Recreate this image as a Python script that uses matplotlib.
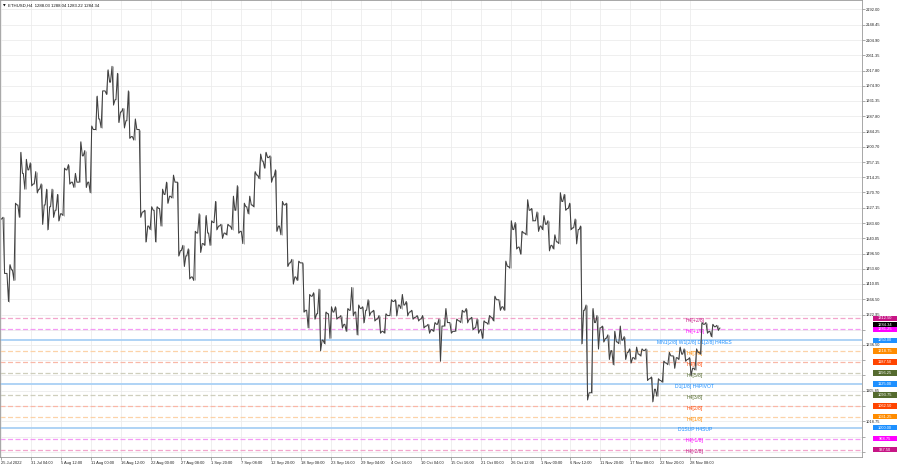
import matplotlib
matplotlib.use("Agg")
import matplotlib.pyplot as plt
import matplotlib.transforms as mtransforms
from matplotlib.patches import Rectangle

plt.rcParams['font.family'] = ['Liberation Sans', 'DejaVu Sans']

# daily bars, 25 Jul 2022 .. 3 Dec 2022
opens = [1595, 1440, 1450, 1635, 1725, 1735, 1695,
         1680, 1635, 1630, 1620, 1610, 1735, 1700, 1700, 1775, 1700, 1850, 1880, 1960, 1985, 1935, 1900,
         1875, 1830, 1850, 1615, 1575, 1620, 1625, 1665, 1660, 1700, 1505, 1490, 1430, 1555, 1525,
         1555, 1585, 1575, 1555, 1575, 1620, 1560, 1630, 1635, 1720, 1760, 1770, 1715, 1575, 1635,
         1470, 1430, 1470, 1335, 1375, 1325, 1250, 1325, 1330, 1315, 1295, 1335, 1330, 1340, 1335,
         1330, 1310, 1275, 1320, 1360, 1350, 1350, 1330, 1315, 1310, 1290, 1280, 1295, 1290, 1300,
         1275, 1305, 1330, 1310, 1285, 1280, 1300, 1315, 1365, 1345, 1460, 1565, 1515, 1555, 1620,
         1590, 1575, 1580, 1520, 1530, 1645, 1625, 1570, 1565, 1335, 1100, 1300, 1285, 1255, 1220,
         1245, 1250, 1215, 1200, 1210, 1220, 1140, 1110, 1135, 1185, 1205, 1200, 1210, 1195, 1170,
         1215, 1295, 1275, 1288]
highs = [1600, 1465, 1640, 1785, 1765, 1755, 1730,
         1695, 1680, 1680, 1665, 1740, 1750, 1725, 1815, 1790, 1860, 1945, 1960, 2020, 2030, 2010, 1910,
         1960, 1880, 1850, 1620, 1630, 1630, 1680, 1700, 1720, 1700, 1520, 1510, 1560, 1610, 1605,
         1590, 1645, 1580, 1580, 1660, 1690, 1640, 1660, 1730, 1780, 1785, 1775, 1735, 1645, 1640,
         1480, 1475, 1470, 1380, 1385, 1395, 1330, 1345, 1345, 1320, 1340, 1400, 1350, 1345, 1365,
         1335, 1320, 1325, 1365, 1365, 1380, 1360, 1335, 1320, 1320, 1295, 1300, 1310, 1340, 1300,
         1310, 1335, 1340, 1315, 1310, 1305, 1320, 1375, 1365, 1475, 1590, 1585, 1560, 1650, 1625,
         1615, 1605, 1590, 1550, 1670, 1665, 1640, 1595, 1575, 1350, 1340, 1320, 1290, 1265, 1275,
         1290, 1260, 1225, 1230, 1225, 1225, 1145, 1140, 1190, 1215, 1205, 1230, 1225, 1200, 1225,
         1300, 1300, 1295, 1292]
lows = [1440, 1360, 1420, 1600, 1680, 1690, 1670,
        1580, 1565, 1600, 1590, 1605, 1695, 1685, 1700, 1685, 1670, 1850, 1855, 1950, 1920, 1870, 1855,
        1825, 1820, 1600, 1530, 1565, 1530, 1575, 1640, 1655, 1490, 1460, 1425, 1420, 1500, 1520,
        1520, 1565, 1540, 1550, 1565, 1555, 1525, 1610, 1630, 1710, 1740, 1700, 1560, 1550, 1460,
        1410, 1420, 1330, 1285, 1310, 1220, 1240, 1255, 1310, 1285, 1275, 1320, 1265, 1300, 1320,
        1305, 1270, 1270, 1320, 1320, 1340, 1320, 1310, 1305, 1285, 1270, 1275, 1190, 1290, 1270,
        1275, 1300, 1300, 1280, 1270, 1255, 1295, 1305, 1335, 1335, 1455, 1510, 1495, 1550, 1590,
        1560, 1565, 1505, 1510, 1525, 1620, 1565, 1525, 1240, 1080, 1100, 1225, 1245, 1195, 1180,
        1240, 1195, 1185, 1195, 1205, 1135, 1075, 1090, 1130, 1180, 1170, 1195, 1190, 1150, 1165,
        1210, 1270, 1260, 1278]
closes = [1440, 1450, 1635, 1725, 1735, 1695, 1680,
          1635, 1630, 1620, 1610, 1735, 1700, 1700, 1775, 1700, 1850, 1880, 1960, 1985, 1935, 1900, 1875,
          1830, 1850, 1615, 1575, 1620, 1625, 1665, 1660, 1700, 1505, 1490, 1430, 1555, 1525, 1555,
          1585, 1575, 1555, 1575, 1620, 1560, 1630, 1635, 1720, 1760, 1770, 1715, 1575, 1635, 1470,
          1430, 1470, 1335, 1375, 1325, 1250, 1325, 1330, 1315, 1295, 1335, 1330, 1340, 1335, 1330,
          1310, 1275, 1320, 1360, 1350, 1350, 1330, 1315, 1310, 1290, 1280, 1295, 1290, 1300, 1275,
          1305, 1330, 1310, 1285, 1280, 1300, 1315, 1365, 1345, 1460, 1565, 1515, 1555, 1620, 1590,
          1575, 1580, 1520, 1530, 1645, 1625, 1570, 1565, 1335, 1100, 1300, 1285, 1255, 1220, 1245,
          1250, 1215, 1200, 1210, 1220, 1140, 1110, 1135, 1185, 1205, 1200, 1210, 1195, 1170, 1215,
          1295, 1275, 1288, 1284.34]

date_labels = ['25 Jul 2022', '31 Jul 04:00', '5 Aug 12:00', '11 Aug 00:00', '16 Aug 12:00',
               '22 Aug 00:00', '27 Aug 08:00', '1 Sep 20:00', '7 Sep 08:00', '12 Sep 20:00',
               '18 Sep 08:00', '23 Sep 16:00', '29 Sep 04:00', '4 Oct 16:00', '10 Oct 04:00',
               '15 Oct 16:00', '21 Oct 00:00', '26 Oct 12:00', '1 Nov 00:00', '6 Nov 12:00',
               '11 Nov 20:00', '17 Nov 08:00', '22 Nov 20:00', '28 Nov 08:00']
price_ticks = [2192.00, 2148.45, 2104.90, 2061.35, 2017.80, 1974.90, 1931.35, 1887.80, 1844.25,
               1800.70, 1757.15, 1714.25, 1670.70, 1627.15, 1583.60, 1540.05, 1496.50, 1453.60,
               1410.05, 1366.50, 1322.95, 1279.40, 1236.50, 1192.95, 1149.40, 1105.85, 1062.30,
               1018.75, 975.20, 931.65]

# murrey levels
levels = [1312.50, 1281.25, 1250.00, 1218.75, 1187.50, 1156.25, 1125.00,
          1093.75, 1062.50, 1031.25, 1000.00, 968.75, 937.50]
level_names = ['H4[+2/8]', 'H4[+1/8]', 'MN1[2/8] W1[2/8] D1[2/8] H4RES', 'H4[7/8]', 'H4[6/8]',
               'H4[5/8]', 'D1[1/8] H4PIVOT', 'H4[3/8]', 'H4[2/8]', 'H4[1/8]', 'D1SUP H4SUP',
               'H4[-1/8]', 'H4[-2/8]']
level_colors = ['#c71585', '#ff00ff', '#1e90ff', '#ff8c00', '#ff4500', '#556b2f', '#1e90ff',
                '#556b2f', '#ff4500', '#ff8c00', '#1e90ff', '#ff00ff', '#c71585']
line_colors = ['#f2a6cc', '#f59af5', '#a9d0f5', '#fcd3a8', '#f9b8a8', '#cfcfbd', '#a9d0f5',
               '#cfcfbd', '#f9b8a8', '#fcd3a8', '#a9d0f5', '#f59af5', '#f2a6cc']
last_price = 1284.34

fig = plt.figure(figsize=(9, 4.68), dpi=100)
ax = fig.add_axes([0.0, 11 / 468, 862 / 900, 457 / 468])

tick_pos = [i * 5.5 for i in range(len(date_labels))]
ax.set_xlim(-0.2, 158)
ax.set_ylim(917, 2219)

for t in tick_pos:
    ax.axvline(t, color='#ececec', lw=0.6, zorder=0)
for p in price_ticks:
    ax.axhline(p, color='#ececec', lw=0.6, zorder=0)

# levels
for lv, lc in zip(levels, line_colors):
    if lc == '#a9d0f5':
        ax.axhline(lv, color=lc, lw=1.3, zorder=1)
    else:
        ax.axhline(lv, color=lc, lw=0.9, ls=(0, (4, 2)), zorder=1)

for lv, nm, c in zip(levels, level_names, level_colors):
    ax.text(127.3, lv - 6, nm, color=c, fontsize=3.6, ha='center', va='center', zorder=2)

# bars drawn as one jagged path open -> low/high -> high/low -> close
px, py = [], []
for k in range(len(closes)):
    o, h, l, c = opens[k], highs[k], lows[k], closes[k]
    mid = [l, h] if c >= o else [h, l]
    px += [k + 0.08, k + 0.36, k + 0.64, k + 0.92]
    py += [o, mid[0], mid[1], c]
ax.vlines([k + 0.5 for k in range(len(closes))], lows, highs, color='#a0a0a0', lw=0.6, zorder=3)
ax.plot(px, py, color='#404040', lw=0.75, zorder=4)

# price boxes on the right
trans = mtransforms.blended_transform_factory(ax.transAxes, ax.transData)
bw = 24 / 862
bh = 5.2 * 2.85
box_items = [(last_price + 9, '%.2f' % last_price, 'black')]
box_items += [(lv, '%.2f' % lv, c) for lv, c in zip(levels, level_colors)]
for yv, txt, c in box_items:
    ax.add_patch(Rectangle((1.0128, yv - bh / 2), bw, bh, transform=trans, fc=c, ec='none',
                           clip_on=False, zorder=5))
    ax.text(1.0128 + bw / 2, yv, txt, transform=trans, color='white', fontsize=2.9,
            ha='center', va='center', clip_on=False, zorder=6)

# tick labels hidden behind the boxes in the original are left out
shown = []
for p in price_ticks:
    near = min(abs(p - lv) for lv in levels + [last_price + 9])
    shown.append('%.2f' % p if near > 10 else '')

ax.set_xticks(tick_pos)
ax.set_xticklabels(date_labels, fontsize=2.9, ha='left', color='#222222')
ax.set_yticks(price_ticks)
ax.set_yticklabels(shown, fontsize=2.9, color='#222222')
ax.yaxis.tick_right()
ax.tick_params(axis='both', length=2, width=0.5, color='#888888', pad=1)
for s in ax.spines.values():
    s.set_color('#999999')
    s.set_linewidth(0.6)

ax.text(0.003, 0.992, '\u25bc', transform=ax.transAxes, fontsize=2.5, va='top', ha='left',
        family='DejaVu Sans')
ax.text(0.009, 0.993, 'ETHUSD,H4  1288.03 1288.04 1283.22 1284.34', transform=ax.transAxes,
        fontsize=3.1, va='top', ha='left', color='#111111')

fig.savefig('out.png', dpi=100)
